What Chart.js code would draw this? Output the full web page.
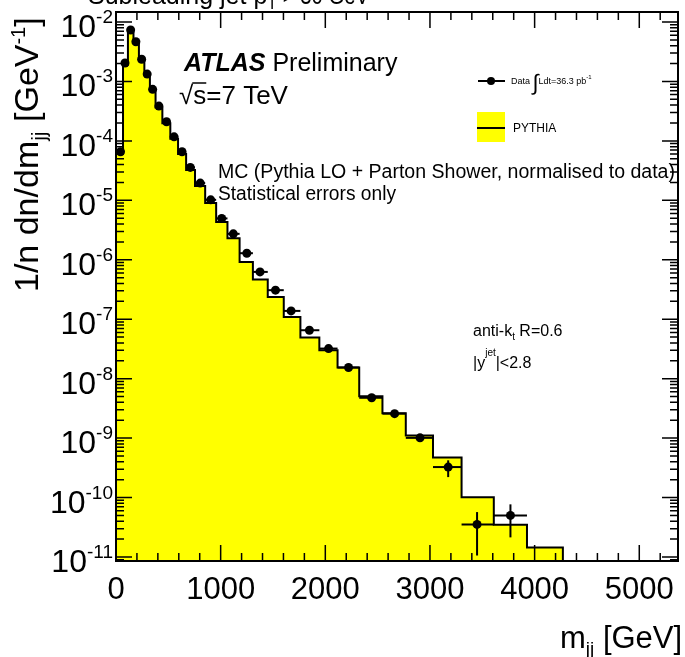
<!DOCTYPE html>
<html><head><meta charset="utf-8">
<script src="https://cdn.jsdelivr.net/npm/chart.js@4.4.0/dist/chart.umd.min.js"></script>
<style>html,body{margin:0;padding:0;background:#fff;overflow:hidden}#wrap{width:685px;height:657px;position:relative}</style>
</head><body><div id="wrap"><canvas id="c" width="685" height="657"></canvas></div>
<script>
// ---- data ----
const binEdges = [0,67,114,167,219,271,324,378,443,519,593,670,755,852,957,1065,1181,1308,1450,1603,1762,1943,2117,2324,2546,2769,3029,3302,3610,3927,4270];
const mcValues = [6.0e-5,1.9e-3,6.5e-3,4.4e-3,2.25e-3,1.27e-3,7.0e-4,3.65e-4,1.98e-4,1.09e-4,6.0e-5,3.25e-5,1.75e-5,9.0e-6,4.3e-6,2.3e-6,9.2e-7,4.66e-7,2.37e-7,1.09e-7,4.92e-8,3.01e-8,1.54e-8,5.06e-9,2.62e-9,1.11e-9,4.7e-10,1.01e-10,3.5e-11,1.44e-11];
const dataMass = [43,86,140,190,245,298,350,410,483,555,631,710,805,905,1010,1121,1250,1376,1524,1673,1848,2031,2222,2443,2662,2905,3174,3450,3769];
const dataValues = [6.55e-5,2.04e-3,7.33e-3,4.66e-3,2.36e-3,1.33e-3,7.36e-4,3.85e-4,2.10e-4,1.17e-4,6.55e-5,3.58e-5,1.95e-5,1.02e-5,4.96e-6,2.73e-6,1.29e-6,6.25e-7,3.08e-7,1.38e-7,6.53e-8,3.21e-8,1.54e-8,4.77e-9,2.58e-9,1.01e-9,3.26e-10,3.54e-11,5.01e-11];
const dataUpper = [null,null,null,null,null,null,null,null,null,null,null,null,null,null,null,null,null,null,null,null,null,null,1.6e-8,5.2e-9,2.85e-9,1.15e-9,4.23e-10,5.7e-11,7.69e-11];
const dataLower = [null,null,null,null,null,null,null,null,null,null,null,null,null,null,null,null,null,null,null,null,null,null,1.48e-8,4.35e-9,2.3e-9,0.88e-9,2.21e-10,1.06e-11,2.14e-11];
const xTickValues = [0,1000,2000,3000,4000,5000];
const xTickLabels = ['0','1000','2000','3000','4000','5000'];
const yDecades = [-2,-3,-4,-5,-6,-7,-8,-9,-10,-11];
const X_MIN = 0, X_MAX = 5370, Y_MIN = 8.57e-12, Y_MAX = 0.01472;

// MC histogram outline built from the bin table
const mcPoints = [{x: binEdges[0], y: Y_MIN}];
mcValues.forEach((v, i) => mcPoints.push({x: binEdges[i], y: v}));
mcPoints.push({x: binEdges[binEdges.length - 1], y: Y_MIN});
const dataPoints = dataMass.map((m, i) => ({x: m, y: dataValues[i]}));

const FONT = "'Liberation Sans', Arial, Helvetica, sans-serif";

function txt(ctx, s, x, y, size, opts = {}) {
  ctx.font = (opts.style || '') + ' ' + size + 'px ' + FONT;
  ctx.textAlign = opts.align || 'left';
  ctx.textBaseline = 'alphabetic';
  ctx.fillStyle = '#000';
  if (opts.maxWidth) ctx.fillText(s, x, y, opts.maxWidth); else ctx.fillText(s, x, y);
  const w = ctx.measureText(s).width;
  return opts.maxWidth ? Math.min(w, opts.maxWidth) : w;
}

const framePlugin = {
  id: 'frame',
  afterDatasetsDraw(chart) {
    const ctx = chart.ctx, a = chart.chartArea;
    const xs = chart.scales.x, ys = chart.scales.y;
    ctx.save();
    // error bars
    ctx.strokeStyle = '#000'; ctx.lineWidth = 2;
    dataPoints.forEach((p, i) => {
      const py = ys.getPixelForValue(p.y);
      const x0 = xs.getPixelForValue(binEdges[i]), x1 = xs.getPixelForValue(binEdges[i + 1]);
      ctx.beginPath(); ctx.moveTo(x0, py); ctx.lineTo(x1, py); ctx.stroke();
      if (dataUpper[i] !== null) {
        const px = xs.getPixelForValue(p.x);
        ctx.beginPath();
        ctx.moveTo(px, ys.getPixelForValue(dataUpper[i]));
        ctx.lineTo(px, ys.getPixelForValue(dataLower[i]));
        ctx.stroke();
      }
    });
    // frame
    ctx.lineWidth = 2;
    ctx.strokeRect(a.left, a.top, a.right - a.left, a.bottom - a.top);
    ctx.lineWidth = 1.5;
    // x ticks
    for (let v = 0; v <= X_MAX; v += 200) {
      const px = xs.getPixelForValue(v);
      const L = (v % 1000 === 0) ? 16 : 8;
      ctx.beginPath();
      ctx.moveTo(px, a.bottom); ctx.lineTo(px, a.bottom - L);
      ctx.moveTo(px, a.top); ctx.lineTo(px, a.top + L);
      ctx.stroke();
    }
    // y ticks
    for (let e = -12; e <= -1; e++) {
      for (let m = 1; m <= 9; m++) {
        const v = m * Math.pow(10, e);
        if (v < Y_MIN || v > Y_MAX) continue;
        const py = ys.getPixelForValue(v);
        const L = m === 1 ? 16 : 8;
        ctx.beginPath();
        ctx.moveTo(a.left, py); ctx.lineTo(a.left + L, py);
        ctx.moveTo(a.right, py); ctx.lineTo(a.right - L, py);
        ctx.stroke();
      }
    }
    ctx.restore();
  },
  afterDraw(chart) {
    const ctx = chart.ctx, a = chart.chartArea;
    const xs = chart.scales.x, ys = chart.scales.y;
    ctx.save();
    // x tick labels
    xTickValues.forEach((v, i) => {
      txt(ctx, xTickLabels[i], xs.getPixelForValue(v), a.bottom + 38, 31, {align: 'center'});
    });
    // y tick labels 10^n
    yDecades.forEach(e => {
      const py = ys.getPixelForValue(Math.pow(10, e));
      ctx.font = '19px ' + FONT;
      const sup = String(e);
      const sw = ctx.measureText(sup).width;
      ctx.font = '32px ' + FONT;
      const bw = ctx.measureText('10').width;
      const right = 113;
      txt(ctx, '10', right - sw - bw, py + 15, 32);
      txt(ctx, sup, right - sw, py + 1, 19);
    });
    // x-axis title m_jj [GeV]
    let x = 560;
    x += txt(ctx, 'm', x, 648, 31);
    x += txt(ctx, 'jj', x, 655, 19);
    txt(ctx, ' [GeV]', x, 648, 31);
    // y-axis title
    ctx.save();
    ctx.translate(38, 292);
    ctx.rotate(-Math.PI / 2);
    let t = 0;
    t += txt(ctx, '1/n dn/dm', t, 0, 34);
    t += txt(ctx, 'jj', t, 8, 21);
    t += txt(ctx, ' [GeV', t, 0, 34);
    t += txt(ctx, '-1', t, -13, 20);
    txt(ctx, ']', t, 0, 34);
    ctx.restore();
    // cut title at top
    let tx = 88;
    tx += txt(ctx, 'Subleading jet p', tx, 4, 25, {maxWidth: 190});
    tx += txt(ctx, 'T', tx, 9, 16);
    txt(ctx, ' > 30 GeV', tx, 4, 25, {maxWidth: 92});
    // ATLAS Preliminary
    const w1 = txt(ctx, 'ATLAS', 184, 71, 25, {style: 'italic bold'});
    txt(ctx, ' Preliminary', 184 + w1, 71, 25);
    // sqrt(s)=7 TeV
    let sx = 179;
    sx += txt(ctx, '\u221A', sx, 104, 26);
    const sw2 = txt(ctx, 's', sx, 104, 26);
    ctx.lineWidth = 1.5; ctx.strokeStyle = '#000';
    ctx.beginPath(); ctx.moveTo(sx - 1, 83); ctx.lineTo(sx + sw2, 83); ctx.stroke();
    txt(ctx, '=7 TeV', sx + sw2, 104, 26);
    // MC text
    txt(ctx, 'MC (Pythia LO + Parton Shower, normalised to data)', 218, 178, 20, {maxWidth: 457});
    txt(ctx, 'Statistical errors only', 218, 200, 20, {maxWidth: 178});
    // anti-kt
    let ax = 473;
    ax += txt(ctx, 'anti-k', ax, 336, 16);
    ax += txt(ctx, 't', ax, 340, 10);
    txt(ctx, ' R=0.6', ax, 336, 16);
    let yx = 473;
    yx += txt(ctx, '|y', yx, 368, 16);
    yx += txt(ctx, 'jet', yx, 356, 10);
    txt(ctx, '|<2.8', yx, 368, 16);
    // legend
    ctx.strokeStyle = '#000'; ctx.lineWidth = 2;
    ctx.beginPath(); ctx.moveTo(478, 81); ctx.lineTo(505, 81); ctx.stroke();
    ctx.beginPath(); ctx.arc(491, 81, 4, 0, Math.PI * 2); ctx.fillStyle = '#000'; ctx.fill();
    let lx = 511;
    lx += txt(ctx, 'Data ', lx, 84, 9);
    lx += txt(ctx, '\u222B', lx, 90, 22);
    lx += txt(ctx, 'Ldt=36.3 pb', lx, 84, 9);
    txt(ctx, '-1', lx, 79, 6);
    ctx.fillStyle = '#ffff00';
    ctx.fillRect(477, 112, 28, 30);
    ctx.strokeStyle = '#000'; ctx.lineWidth = 2;
    ctx.beginPath(); ctx.moveTo(477, 128); ctx.lineTo(505, 128); ctx.stroke();
    txt(ctx, 'PYTHIA', 513, 132, 12);
    ctx.restore();
  }
};

new Chart(document.getElementById('c'), {
  type: 'scatter',
  data: {
    datasets: [
      {
        type: 'line', label: 'PYTHIA', data: mcPoints, stepped: 'before',
        borderColor: '#000', borderWidth: 2, backgroundColor: '#ffff00',
        fill: 'start', pointRadius: 0, order: 2
      },
      {
        label: 'Data', data: dataPoints, pointRadius: 4.5, pointBackgroundColor: '#000',
        pointBorderColor: '#000', pointBorderWidth: 0, order: 1
      }
    ]
  },
  options: {
    responsive: false, animation: false, events: [],
    layout: {padding: {left: 116, right: 7, top: 12, bottom: 96}},
    plugins: {legend: {display: false}, tooltip: {enabled: false}},
    scales: {
      x: {type: 'linear', min: X_MIN, max: X_MAX, display: false},
      y: {type: 'logarithmic', min: Y_MIN, max: Y_MAX, display: false}
    }
  },
  plugins: [framePlugin]
});
</script>
</body></html>
